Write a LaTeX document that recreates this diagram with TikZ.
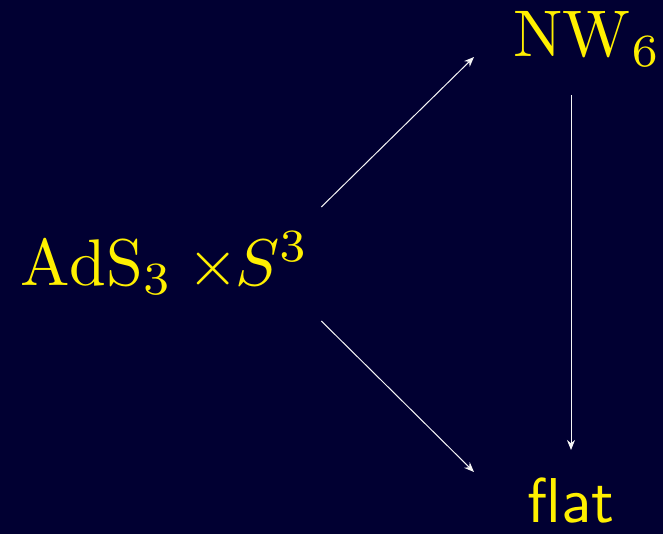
\RequirePackage{fix-cm}
\documentclass[tikz,border=0pt]{standalone}
\usetikzlibrary{arrows.meta}
\definecolor{bgnavy}{RGB}{1,0,50}
\definecolor{lblyellow}{RGB}{255,240,0}

\begin{document}
\begin{tikzpicture}[x=0.5pt,y=-0.5pt,>=Stealth,
  lbl/.style={text=lblyellow,inner sep=0pt,anchor=base west,font=\fontsize{10}{12}\selectfont,scale=3.3,transform shape},
  arr/.style={->,white!92!gray,line width=0.5pt,-{Stealth[length=5pt,width=4pt]}}]
\fill[bgnavy] (0,0) rectangle (663,534);
\node[lbl] (ads) at (19,285) {$\mathrm{AdS}_3\times\mskip-5mu S^3$};
\node[lbl] (nw) at (512,57) {$\mathrm{NW}_6$};
\node[lbl,scale=0.96,font=\fontsize{10}{12}\sffamily] (flat) at (526,522) {flat};
\draw[arr] ([shift={(11,-78)}]ads.base east) -- ([shift={(-38,0)}]nw.base west);
\draw[arr] ([shift={(11,36)}]ads.base east) -- ([shift={(-52,-50)}]flat.base west);
\draw[arr] ([shift={(59,38)}]nw.base west) -- ([shift={(45,-72)}]flat.base west);
\end{tikzpicture}
\end{document}
